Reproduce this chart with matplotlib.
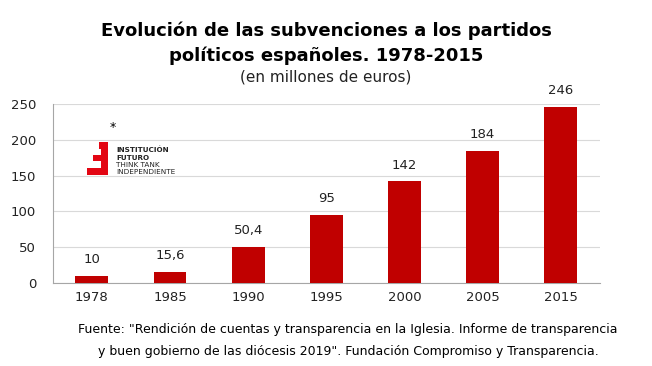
import matplotlib
matplotlib.use("Agg")
import matplotlib.pyplot as plt
from matplotlib.patches import Polygon

years = ["1978", "1985", "1990", "1995", "2000", "2005", "2015"]
values = [10, 15.6, 50.4, 95, 142, 184, 246]
value_labels = ["10", "15,6", "50,4", "95", "142", "184", "246"]
yticks = [0, 50, 100, 150, 200, 250]

fig = plt.figure(figsize=(6.52, 3.66), dpi=100)
ax = fig.add_axes([0.081, 0.227, 0.839, 0.489])

x = range(len(years))
ax.bar(x, values, width=0.42, color="#C00000", zorder=3)
for xi, v, lab in zip(x, values, value_labels):
    ax.annotate(lab, (xi, v), xytext=(0, 7), textcoords="offset points",
                ha="center", va="bottom", fontsize=9.5, color="#222222")

ax.set_ylim(0, 250)
ax.set_xlim(-0.5, len(years) - 0.5)
ax.set_yticks(yticks)
ax.set_xticks(list(x))
ax.set_xticklabels(years)
ax.tick_params(axis="both", length=0, labelsize=9.5, colors="#222222")
ax.tick_params(axis="y", pad=12)
ax.tick_params(axis="x", pad=6)
ax.yaxis.grid(True, color="#D9D9D9", linewidth=0.8, zorder=0)
for s in ["top", "right"]:
    ax.spines[s].set_visible(False)
for s in ["left", "bottom"]:
    ax.spines[s].set_color("#A6A6A6")
    ax.spines[s].set_linewidth(0.8)

fig.text(0.5, 0.915, "Evolución de las subvenciones a los partidos",
         ha="center", va="center", fontsize=13, fontweight="bold")
fig.text(0.5, 0.847, "políticos españoles. 1978-2015",
         ha="center", va="center", fontsize=13, fontweight="bold")
fig.text(0.5, 0.79, "(en millones de euros)", ha="center", va="center",
         fontsize=11, color="#222222")

fig.text(0.534, 0.10, "Fuente: \"Rendición de cuentas y transparencia en la Iglesia. Informe de transparencia",
         ha="center", va="center", fontsize=9)
fig.text(0.534, 0.04, "y buen gobierno de las diócesis 2019\". Fundación Compromiso y Transparencia.",
         ha="center", va="center", fontsize=9)

# logo
W, H = 652, 366
def P(px, py):
    return (px / W, 1 - py / H)
poly = [P(99, 142), P(108, 142), P(108, 175), P(87, 175), P(87, 168), P(101, 168),
        P(101, 161), P(93, 161), P(93, 155), P(101, 155), P(101, 149), P(99, 149)]
fig.patches.append(Polygon(poly, closed=True, transform=fig.transFigure,
                           facecolor="#E30613", edgecolor="none", zorder=5))
fig.text(113 / W, 1 - 128 / H, "*", ha="center", va="center", fontsize=9)
for i, (t, w) in enumerate([("INSTITUCIÓN", "bold"), ("FUTURO", "bold"),
                            ("THINK TANK", "normal"), ("INDEPENDIENTE", "normal")]):
    fig.text(116 / W, 1 - (150 + i * 7.5) / H, t, ha="left", va="center",
             fontsize=5.2, fontweight=w, color="#222222")

fig.savefig("out.png", dpi=100, facecolor="white")
